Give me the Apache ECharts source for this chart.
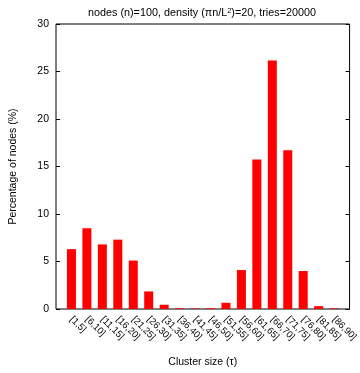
<!DOCTYPE html>
<html>
<head>
<meta charset="utf-8">
<script src="https://cdn.jsdelivr.net/npm/echarts@6/dist/echarts.min.js"></script>
<style>
  html, body { margin: 0; padding: 0; background: #fff; }
  #chart { width: 360px; height: 373px; }
</style>
</head>
<body>
<div id="chart"></div>
<script>
// cluster size bins
const categories = ['[1,5]', '[6,10]', '[11,15]', '[16,20]', '[21,25]', '[26,30]',
  '[31,35]', '[36,40]', '[41,45]', '[46,50]', '[51,55]', '[56,60]', '[61,65]',
  '[66,70]', '[71,75]', '[76,80]', '[81,85]', '[86,90]'];
// percentage of nodes per bin
const percentages = [6.3, 8.5, 6.8, 7.3, 5.1, 1.85, 0.45, 0.08, 0.05, 0.08,
  0.65, 4.1, 15.75, 26.15, 16.7, 4.0, 0.3, 0.07];
const yTicks = [0, 5, 10, 15, 20, 25, 30];

const font = 'Liberation Sans';
const chart = echarts.init(document.getElementById('chart'));

const option = {
  animation: false,
  title: {
    text: 'nodes (n)=100, density (πn/L{sup|2})=20, tries=20000',
    left: 197,
    textAlign: 'center',
    top: 2,
    textStyle: {
      fontFamily: font, fontSize: 10.8, fontWeight: 'normal', color: '#000',
      rich: { sup: { fontSize: 7.5, verticalAlign: 'top', padding: [0, 0, 5, 0], fontFamily: font } }
    }
  },
  grid: {
    left: 50, right: 9, top: 24, bottom: 60,
    show: true, borderColor: '#000', borderWidth: 1, backgroundColor: 'transparent'
  },
  xAxis: {
    type: 'value',
    min: -1, max: 18, interval: 1,
    name: 'Cluster size (τ)',
    nameLocation: 'middle',
    nameGap: 48,
    nameTextStyle: { fontFamily: font, fontSize: 10.5, color: '#000' },
    axisLine: { show: false, onZero: false },
    axisTick: { show: false },
    splitLine: { show: false },
    axisLabel: {
      rotate: -45,
      margin: 9,
      fontFamily: font, fontSize: 9.5, color: '#000',
      showMinLabel: true, showMaxLabel: true,
      formatter: v => (v >= 0 && v < categories.length ? categories[v] : '')
    }
  },
  yAxis: [{
    type: 'value',
    min: yTicks[0], max: yTicks[yTicks.length - 1], interval: 5,
    name: 'Percentage of nodes (%)',
    nameLocation: 'middle',
    nameGap: 37,
    nameTextStyle: { fontFamily: font, fontSize: 10.5, color: '#000' },
    axisLine: { show: false, onZero: false },
    axisTick: { show: true, inside: true, length: 4, lineStyle: { color: '#000' } },
    splitLine: { show: false },
    axisLabel: { fontFamily: font, fontSize: 10.5, color: '#000', margin: 7 }
  }, {
    type: 'value',
    position: 'right',
    min: yTicks[0], max: yTicks[yTicks.length - 1], interval: 5,
    axisLine: { show: false, onZero: false },
    axisTick: { show: true, inside: true, length: 4, lineStyle: { color: '#000' } },
    splitLine: { show: false },
    axisLabel: { show: false }
  }],
  series: [{
    type: 'bar',
    barWidth: 9,
    itemStyle: { color: '#ff0000' },
    data: percentages.map((v, i) => [i, v])
  }]
};
chart.setOption(option);
</script>
</body>
</html>
